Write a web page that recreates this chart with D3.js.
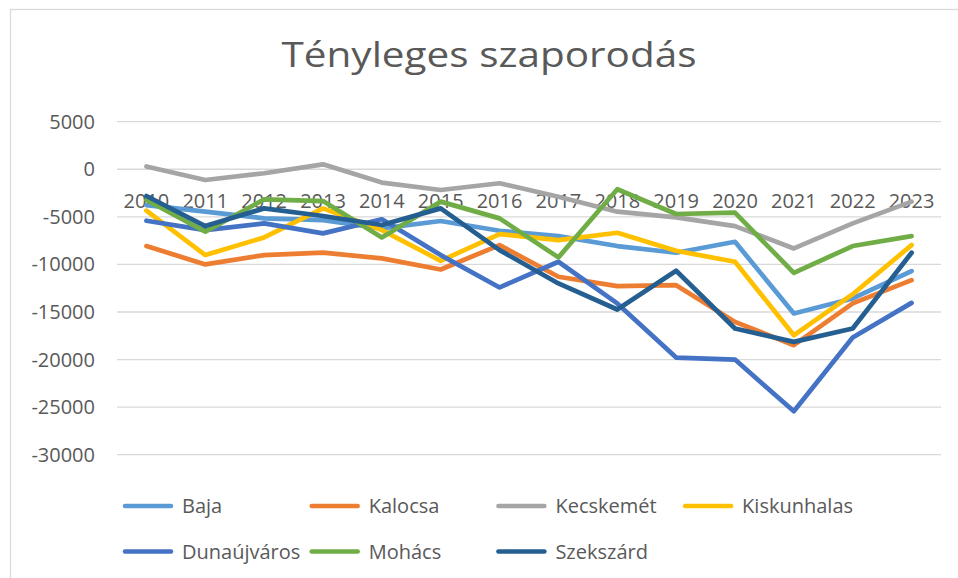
<!DOCTYPE html>
<html>
<head>
<meta charset="utf-8">
<script src="https://cdn.jsdelivr.net/npm/d3@7"></script>
<style>
  body { margin: 0; background: #fff; }
  svg { display: block; font-family: "Open Sans", sans-serif; }
</style>
</head>
<body>
<div id="chart"></div>
<script>
// Chart data
const years = ["2010", "2011", "2012", "2013", "2014", "2015", "2016", "2017", "2018", "2019", "2020", "2021", "2022", "2023"];
const baja        = [-3760, -4460, -5160, -5340, -6210, -5440, -6460, -7020, -8070, -8770, -7620, -15160, -13580, -10700];
const kalocsa     = [-8070, -10000, -9020, -8770, -9370, -10530, -7970, -11300, -12280, -12180, -16040, -18490, -14100, -11650];
const kecskemet   = [300, -1130, -420, 520, -1400, -2180, -1470, -2880, -4460, -5050, -5970, -8320, -5690, -3400];
const kiskunhalas = [-4350, -9020, -7160, -4110, -6390, -9620, -6810, -7440, -6670, -8570, -9720, -17440, -13130, -7970];
const dunaujvaros = [-5410, -6390, -5690, -6740, -5260, -9020, -12420, -9720, -14100, -19790, -20000, -25440, -17690, -14040];
const mohacs      = [-3230, -6560, -3160, -3340, -7160, -3400, -5160, -9260, -2100, -4700, -4560, -10880, -8070, -7020];
const szekszard   = [-2810, -5970, -4110, -4910, -5860, -4110, -8500, -12000, -14740, -10670, -16740, -18140, -16740, -8770];
const seriesNames = ["Baja", "Kalocsa", "Kecskemét", "Kiskunhalas", "Dunaújváros", "Mohács", "Szekszárd"];
const yTicks = [5000, 0, -5000, -10000, -15000, -20000, -25000, -30000];

const width = 958;
const height = 578;

const series = [
  { name: seriesNames[0], values: baja, color: "#5B9BD5" },
  { name: seriesNames[1], values: kalocsa, color: "#ED7D31" },
  { name: seriesNames[2], values: kecskemet, color: "#A5A5A5" },
  { name: seriesNames[3], values: kiskunhalas, color: "#FFC000" },
  { name: seriesNames[4], values: dunaujvaros, color: "#4472C4" },
  { name: seriesNames[5], values: mohacs, color: "#70AD47" },
  { name: seriesNames[6], values: szekszard, color: "#255E91" }
];

const svg = d3.select("#chart").append("svg")
    .attr("width", width)
    .attr("height", height);

// Chart frame
svg.append("rect")
    .attr("x", 10.5).attr("y", 9.5)
    .attr("width", 960).attr("height", 600)
    .attr("fill", "none")
    .attr("stroke", "#d9d9d9")
    .attr("stroke-width", 1.3);

// Scales
const x = d3.scaleBand().domain(years).range([117, 941]);
const y = d3.scaleLinear().domain([-30000, 5000]).range([454.7, 121.7]);
const cx = d => x(d) + x.bandwidth() / 2;

// Title (the original font is wider than Open Sans, so stretch it)
svg.append("text")
    .attr("x", 489).attr("y", 67)
    .attr("text-anchor", "middle")
    .attr("fill", "#595959")
    .attr("textLength", 415)
    .attr("lengthAdjust", "spacingAndGlyphs")
    .style("font-size", "34px")
    .text("Tényleges szaporodás");

// Gridlines
svg.append("g").selectAll("line")
    .data(yTicks)
    .join("line")
    .attr("x1", 117).attr("x2", 941)
    .attr("y1", d => y(d)).attr("y2", d => y(d))
    .attr("stroke", "#d9d9d9")
    .attr("stroke-width", 1.3);

// Y labels
svg.append("g").selectAll("text")
    .data(yTicks)
    .join("text")
    .attr("x", 95)
    .attr("y", d => y(d))
    .attr("dy", "0.35em")
    .attr("text-anchor", "end")
    .attr("fill", "#595959")
    .style("font-size", "20px")
    .text(d => d);

// X labels sit next to the zero line
svg.append("g").selectAll("text")
    .data(years)
    .join("text")
    .attr("x", d => cx(d))
    .attr("y", y(0) + 39)
    .attr("text-anchor", "middle")
    .attr("fill", "#595959")
    .style("font-size", "20px")
    .text(d => d);

// Lines
const line = d3.line()
    .x((d, i) => cx(years[i]))
    .y(d => y(d));

svg.append("g").selectAll("path")
    .data(series)
    .join("path")
    .attr("d", d => line(d.values))
    .attr("fill", "none")
    .attr("stroke", d => d.color)
    .attr("stroke-width", 4.7)
    .attr("stroke-linejoin", "round")
    .attr("stroke-linecap", "round");

// Legend, 4 columns
const legend = svg.append("g").selectAll("g")
    .data(series)
    .join("g")
    .attr("transform", (d, i) => `translate(${125 + (i % 4) * 186.7},${i < 4 ? 506 : 551.5})`);

legend.append("line")
    .attr("x1", 0).attr("x2", 46)
    .attr("stroke", d => d.color)
    .attr("stroke-width", 4.5)
    .attr("stroke-linecap", "round");

legend.append("text")
    .attr("x", 57)
    .attr("dy", "0.35em")
    .attr("fill", "#595959")
    .style("font-size", "20px")
    .text(d => d.name);
</script>
</body>
</html>
